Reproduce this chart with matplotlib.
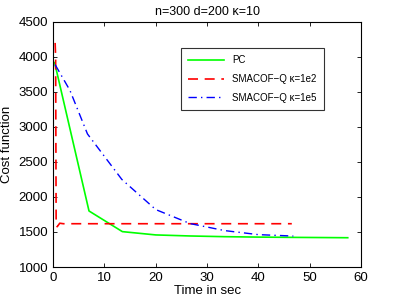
import matplotlib
matplotlib.use("Agg")
import matplotlib.pyplot as plt

# PC curve
pc_time = [0.3, 7.0, 13.5, 20.0, 26.7, 33.4, 40.0, 46.7, 53.4, 57.4]
pc_cost = [3920, 1800, 1505, 1458, 1443, 1433, 1427, 1423, 1420, 1418]

# SMACOF-Q kappa=1e2
q2_time = [0.4, 0.5, 0.6, 0.8, 1.3, 2.0, 10.0, 20.0, 30.0, 40.0, 46.5]
q2_cost = [4200, 4000, 1600, 1575, 1625, 1618, 1618, 1618, 1618, 1618, 1618]

# SMACOF-Q kappa=1e5
q5_time = [0.4, 3.3, 6.7, 13.4, 20.0, 26.7, 33.4, 40.0, 46.8]
q5_cost = [3890, 3520, 2900, 2250, 1820, 1620, 1520, 1462, 1442]

plt.rcParams["font.family"] = ["Liberation Sans", "DejaVu Sans"]
plt.rcParams["font.size"] = 9.5

fig = plt.figure(figsize=(3.99, 3.0), dpi=100)
ax = fig.add_axes([0.133, 0.11, 0.772, 0.817])

ax.plot(pc_time, pc_cost, color=(0, 1, 0), lw=1.2, label="PC")
ax.plot(q2_time, q2_cost, color=(1, 0, 0), lw=1.2, ls=(0, (6, 4)),
        label="SMACOF\u2212Q \u03ba=1e2")
ax.plot(q5_time, q5_cost, color=(0, 0, 1), lw=1.0, ls=(0, (6, 3, 1, 3)),
        label="SMACOF\u2212Q \u03ba=1e5")

ax.set_xlim(0, 60)
ax.set_ylim(1000, 4500)
ax.set_xticks(range(0, 61, 10))
ax.set_yticks(range(1000, 4501, 500))
ax.tick_params(direction="in", top=True, right=True, length=3, width=0.6)
for s in ax.spines.values():
    s.set_linewidth(0.8)

ax.set_xlabel("Time in sec", labelpad=1)
ax.set_ylabel("Cost function", labelpad=4)
ax.set_title("n=300 d=200 \u03ba=10", fontsize=9, pad=5)

leg = ax.legend(loc="upper left", bbox_to_anchor=(0.416, 0.894), fontsize=7,
                frameon=True, fancybox=False, edgecolor="black",
                handlelength=3.7, borderpad=0.75, labelspacing=0.9,
                borderaxespad=0)
leg.get_frame().set_linewidth(0.8)

fig.savefig("out.png", dpi=100)
